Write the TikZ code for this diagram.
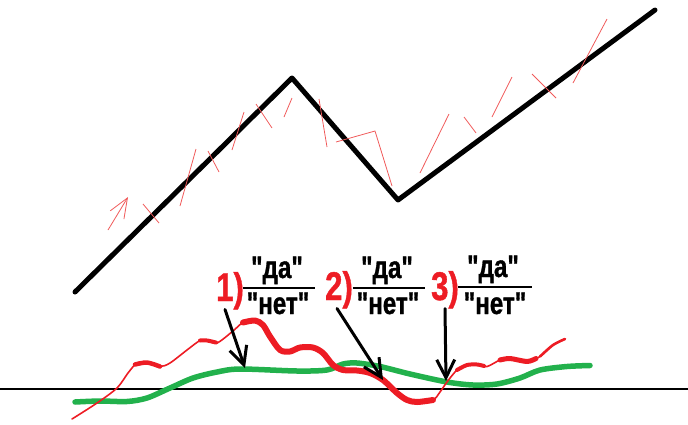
\documentclass[tikz,border=0pt]{standalone}
\usepackage{fontspec}
\newfontfamily\labelfont{Liberation Sans}[BoldFeatures={FakeBold=1.2}]
\usepackage{graphicx}
\usetikzlibrary{arrows.meta}
\definecolor{paintred}{RGB}{237,28,36}
\definecolor{paintgreen}{RGB}{34,177,76}
\definecolor{strokered}{RGB}{240,90,90}
\newcommand{\squeezed}[1]{\scalebox{0.78}[1]{#1}}
\tikzset{
    numlbl/.style={font=\labelfont\fontsize{40}{40}\selectfont\bfseries, text=paintred,
        inner sep=0pt, anchor=base},
    fraclbl/.style={font=\labelfont\fontsize{31}{31}\selectfont\bfseries,
        inner sep=0pt, anchor=base},
    fracbar/.style={line width=2pt},
    pointer/.style={line width=3pt, line cap=round,
        -{Straight Barb[length=18pt,width=18pt]}},
    zigline/.style={line width=5pt, line cap=round, line join=round},
    hintstroke/.style={strokered, line width=0.8pt},
    greenline/.style={paintgreen, line width=5.5pt, line cap=round},
    redline/.style={paintred, line cap=round, line join=round}
}

\begin{document}
\begin{tikzpicture}[x=1pt, y=-1pt]
\useasboundingbox (0,0) rectangle (688,424);
% price path
\draw[zigline] (75,292) -- (292,78) -- (398,200) -- (655,10);
% thin red strokes
\draw[hintstroke, -{Straight Barb[length=20pt,width=16pt]}] (108,230) -- (128,197);
\draw[hintstroke] (143,204) -- (159,223);
\draw[hintstroke] (196,149) -- (180,206);
\draw[hintstroke] (208,151) -- (219,172);
\draw[hintstroke] (244,112) -- (232,150);
\draw[hintstroke] (256,104) -- (272,128);
\draw[hintstroke] (292,98) -- (284,117);
\draw[hintstroke] (319,99) -- (327,147);
\draw[hintstroke] (336,142) -- (375,131) -- (392,186);
\draw[hintstroke] (449,114) -- (420,173);
\draw[hintstroke] (464,117) -- (476,133);
\draw[hintstroke] (512,77) -- (492,117);
\draw[hintstroke] (532,74) -- (556,98);
\draw[hintstroke] (607,19) -- (573,83);
% zero line
\draw[line width=1.5pt] (0,389) -- (688,389);
% green curve
\draw[greenline] plot[smooth] coordinates {(75,402) (100,401) (127,401.5) (147,398)
    (170,388) (193,378) (217,372) (240,369) (297,371) (327,370) (343,364) (357,363)
    (380,366.5) (410,374) (447,382) (473,385) (497,384) (520,378) (540,370)
    (567,366.5) (590,365.5)};
% red curve, thin line with thicker pieces on top
\draw[redline, line width=1.6pt] plot[smooth] coordinates {(72,419) (97,403) (117,388)
    (128,373) (137,363) (147,362.5) (160,366.5) (170,363) (187,350) (200,340.5)
    (207,340.5) (217,343) (233,331) (243,322.5) (255,320.5) (263,325) (270,336.5)
    (280,350) (290,351.5) (300,347.5) (313,347.5) (323,353) (333,365) (343,370)
    (357,370.5) (370,373) (383,380) (397,393) (407,400) (417,402) (433,400)
    (440,392) (447,382) (457,370) (467,365) (477,364.5) (487,366.5) (500,360)
    (510,358.5) (527,361.5) (540,356.5) (553,345) (565,339)};
\draw[redline, line width=4.5pt] plot[smooth] coordinates {(135,364.5) (147,362.5) (160,366.5)};
\draw[redline, line width=4pt] plot[smooth] coordinates {(200,340.5) (207,340.5) (216,342.5)};
\draw[redline, line width=6pt] plot[smooth] coordinates {(243,322.5) (255,320.5) (263,325)
    (270,336.5) (280,350) (290,351.5) (300,347.5) (313,347.5) (323,353) (333,365)
    (343,370) (357,370.5) (370,373) (383,380) (397,393) (407,400) (417,402) (433,400)};
\draw[redline, line width=4pt] plot[smooth] coordinates {(457,370) (467,365) (477,364.5) (484,366)};
\draw[redline, line width=5pt] plot[smooth] coordinates {(500,360) (510,358.5) (527,361.5) (536,358.5)};
\draw[redline, line width=2.6pt] plot[smooth] coordinates {(540,356.5) (553,345) (565,339)};
% labels
\node[numlbl] (n1) at (230,301) {\squeezed{1)}};
\node[fraclbl] (t1) at (277,278) {\squeezed{"да"}};
\node[fraclbl] (b1) at (278,314) {\squeezed{"нет"}};
\node[numlbl] (n2) at (339,300) {\squeezed{2)}};
\node[fraclbl] (t2) at (387,278) {\squeezed{"да"}};
\node[fraclbl] (b2) at (388,314) {\squeezed{"нет"}};
\node[numlbl] (n3) at (445,300) {\squeezed{3)}};
\node[fraclbl] (t3) at (493,277) {\squeezed{"да"}};
\node[fraclbl] (b3) at (495,314) {\squeezed{"нет"}};
\coordinate (bar1a) at (243,288); \coordinate (bar1b) at (315,288);
\coordinate (bar2a) at (353,288); \coordinate (bar2b) at (425,288);
\coordinate (bar3a) at (458,287); \coordinate (bar3b) at (532,287);
\draw[fracbar] (bar1a) -- (bar1b);
\draw[fracbar] (bar2a) -- (bar2b);
\draw[fracbar] (bar3a) -- (bar3b);
% pointers
\coordinate (tip1) at (245,368);
\coordinate (tip2) at (383,380);
\coordinate (tip3) at (446,381);
\draw[pointer] ([xshift=-5pt]n1.south) -- (tip1);
\draw[pointer] ([xshift=-2pt]n2.south) -- (tip2);
\draw[pointer] (n3.south) -- (tip3);
\end{tikzpicture}
\end{document}
